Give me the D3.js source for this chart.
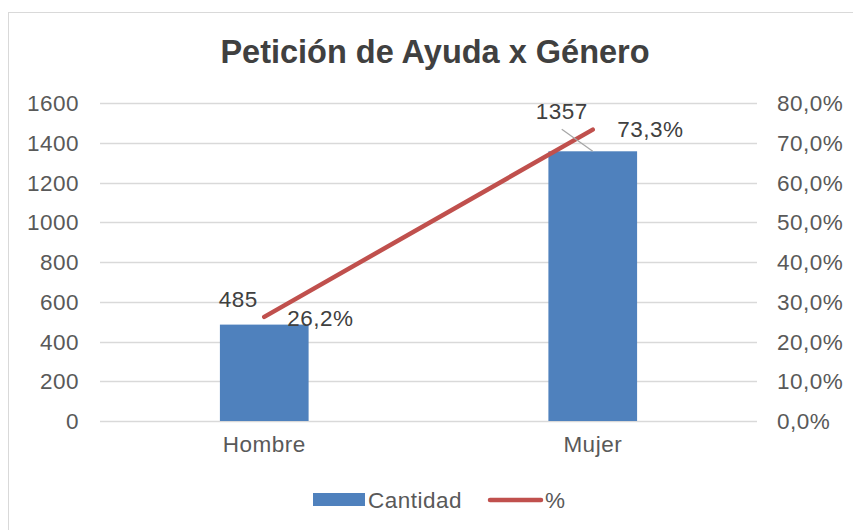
<!DOCTYPE html>
<html><head><meta charset="utf-8">
<script src="https://cdn.jsdelivr.net/npm/d3@7"></script>
<style>body{margin:0;background:#fff}svg{display:block}text{font-family:"Liberation Sans",Arial,sans-serif}</style>
</head><body>
<script>
const categories = ["Hombre", "Mujer"];
const cantidad = [485, 1357];
const porcentaje = [0.262, 0.733];
const leftTicks = [0, 200, 400, 600, 800, 1000, 1200, 1400, 1600];
const rightTicks = [0, 0.1, 0.2, 0.3, 0.4, 0.5, 0.6, 0.7, 0.8];
const title = "Petición de Ayuda x Género";
const legendLabels = ["Cantidad", "%"];

const W = 853, H = 530;
const FS = 22.5, LS = 0.5;
const svg = d3.select("body").append("svg").attr("width", W).attr("height", H);
svg.append("rect").attr("x", 8.5).attr("y", 12.5).attr("width", 900).attr("height", 600)
  .attr("fill", "#fff").attr("stroke", "#d9d9d9").attr("stroke-width", 1);

const m = {l: 100, r: 757, t: 103, b: 421};
const x = d3.scaleBand().domain(categories).range([m.l, m.r]).paddingInner(0).paddingOuter(0);
const yL = d3.scaleLinear().domain([0, 1600]).range([m.b, m.t]);
const yR = d3.scaleLinear().domain([0, 0.8]).range([m.b, m.t]);
const fmtPct = v => d3.format(".1f")(v * 100).replace(".", ",") + "%";

svg.append("text").attr("x", 435).attr("y", 63).attr("text-anchor", "middle")
  .attr("font-size", 32.5).attr("font-weight", "bold").attr("fill", "#404040").text(title);

// gridlines
svg.append("g").selectAll("line").data(leftTicks).join("line")
  .attr("x1", m.l).attr("x2", m.r).attr("y1", d => Math.round(yL(d)) + 0.5).attr("y2", d => Math.round(yL(d)) + 0.5)
  .attr("stroke", "#d9d9d9").attr("stroke-width", 1.5);

function styleAxisText(sel) {
  sel.attr("font-size", FS).attr("letter-spacing", LS).attr("fill", "#595959").attr("font-family", "Liberation Sans, Arial");
}

// left axis
const axL = svg.append("g").attr("transform", `translate(${m.l - 21},0)`)
  .call(d3.axisLeft(yL).tickValues(leftTicks).tickSize(0).tickPadding(0).tickFormat(d3.format("d")));
axL.select(".domain").remove();
styleAxisText(axL.selectAll("text").attr("dy", "0.34em"));

// right axis
const axR = svg.append("g").attr("transform", `translate(${m.r + 20},0)`)
  .call(d3.axisRight(yR).tickValues(rightTicks).tickSize(0).tickPadding(0).tickFormat(fmtPct));
axR.select(".domain").remove();
styleAxisText(axR.selectAll("text").attr("dy", "0.34em"));

// x axis labels
const axX = svg.append("g").attr("transform", `translate(0,${m.b + 14})`)
  .call(d3.axisBottom(x).tickSize(0).tickPadding(0));
axX.select(".domain").remove();
styleAxisText(axX.selectAll("text").attr("dy", "0.75em"));

// bars
const bw = x.bandwidth() * 0.27;
svg.append("g").selectAll("rect").data(cantidad).join("rect")
  .attr("x", (d, i) => x(categories[i]) + x.bandwidth() / 2 - bw / 2)
  .attr("y", d => yL(d)).attr("width", bw).attr("height", d => yL(0) - yL(d))
  .attr("fill", "#4f81bd");

// line
const line = d3.line().x((d, i) => x(categories[i]) + x.bandwidth() / 2).y(d => yR(d));
svg.append("path").datum(porcentaje).attr("d", line).attr("fill", "none")
  .attr("stroke", "#c0504d").attr("stroke-width", 4.5).attr("stroke-linecap", "round");

// leader line for Mujer value label
const cx1 = x(categories[1]) + x.bandwidth() / 2;
svg.append("line").attr("x1", cx1 - 31).attr("y1", yL(cantidad[1]) - 22).attr("x2", cx1).attr("y2", yL(cantidad[1]))
  .attr("stroke", "#a6a6a6").attr("stroke-width", 1.2);

// bar labels
const barOff = [[-26, -18], [-31, -32]];
svg.append("g").selectAll("text").data(cantidad).join("text")
  .attr("x", (d, i) => x(categories[i]) + x.bandwidth() / 2 + barOff[i][0])
  .attr("y", (d, i) => yL(d) + barOff[i][1])
  .attr("text-anchor", "middle").attr("font-size", FS).attr("letter-spacing", LS).attr("fill", "#404040").text(d => d);

// pct labels
const pctOff = [[23, 9], [24.5, 7]];
svg.append("g").selectAll("text").data(porcentaje).join("text")
  .attr("x", (d, i) => x(categories[i]) + x.bandwidth() / 2 + pctOff[i][0])
  .attr("y", (d, i) => yR(d) + pctOff[i][1])
  .attr("font-size", FS).attr("letter-spacing", LS).attr("fill", "#404040").text(d => fmtPct(d));

// legend
const lg = svg.append("g");
lg.append("rect").attr("x", 313).attr("y", 493).attr("width", 52).attr("height", 13).attr("fill", "#4f81bd");
lg.append("text").attr("x", 368).attr("y", 508).attr("font-size", FS).attr("letter-spacing", LS).attr("fill", "#595959").text(legendLabels[0]);
lg.append("line").attr("x1", 490).attr("x2", 541).attr("y1", 500).attr("y2", 500)
  .attr("stroke", "#c0504d").attr("stroke-width", 4.5).attr("stroke-linecap", "round");
lg.append("text").attr("x", 545).attr("y", 508).attr("font-size", FS).attr("letter-spacing", LS).attr("fill", "#595959").text(legendLabels[1]);
</script>
</body></html>
